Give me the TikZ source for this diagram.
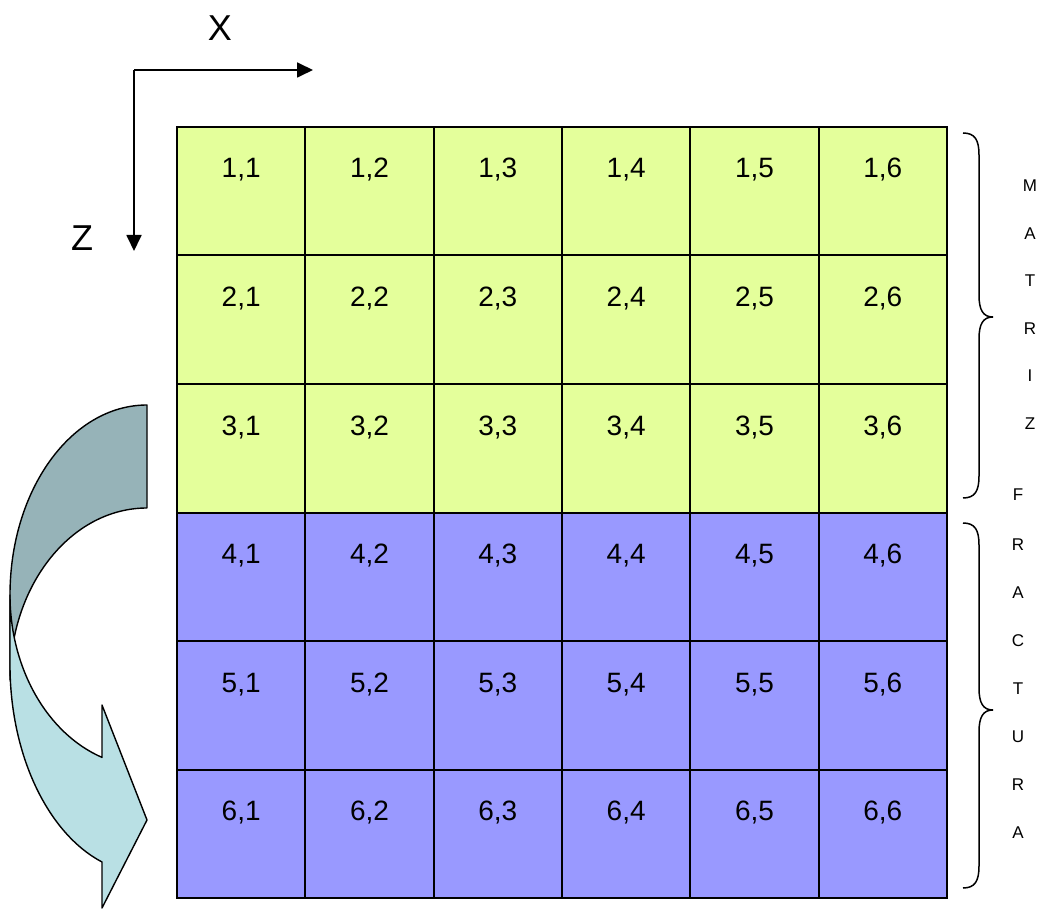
\documentclass[tikz,border=0pt]{standalone}
\usepackage{fontspec}
\setmainfont{Liberation Sans}
\usetikzlibrary{arrows.meta}
\definecolor{cellyellow}{HTML}{E4FF9B}
\definecolor{cellblue}{HTML}{9999FF}
\definecolor{arrowback}{HTML}{96B3B8}
\definecolor{arrowfront}{HTML}{B9E0E4}
\tikzset{
  cell/.style={draw=black, line width=2pt, minimum width=128.33pt, inner sep=0pt,
    text height=51pt, text depth=77.5pt, anchor=north west,
    font=\fontsize{28}{30}\selectfont},
  upper/.style={cell, fill=cellyellow},
  lower/.style={cell, fill=cellblue},
  axis/.style={line width=1.8pt, -{Triangle[length=16pt,width=15pt]}},
  axislabel/.style={font=\fontsize{36}{38}\selectfont, inner sep=0pt},
  letter/.style={font=\fontsize{17}{19}\selectfont, inner sep=0pt},
  bracepath/.style={line width=1.5pt},
  curvedarrow/.style={draw=black, line width=1.4pt, line join=round}
}
\begin{document}
\begin{tikzpicture}[x=1pt,y=-1pt]
\useasboundingbox (0,0) rectangle (1039,909);
% curved arrow (back band)
\path[curvedarrow, fill=arrowback]
  (147,405) -- (147,508) .. controls (71.3,508) and (10,585) .. (10,680)
  -- (10,595) .. controls (10,490) and (71.3,405) .. (147,405) -- cycle;
% curved arrow (front band with head)
\path[curvedarrow, fill=arrowfront]
  (10,595) -- (10,665) .. controls (10,753.7) and (47,832.9) .. (102,862)
  -- (102,908) -- (147,820) -- (102,705) -- (102,757.4)
  .. controls (47,733.4) and (10,668.2) .. (10,595) -- cycle;
% grid
\foreach \r in {1,2,3}{
  \foreach \c in {1,...,6}{
    \node[upper] (c\r\c) at ({176+(\c-1)*128.33},{126+(\r-1)*128.5}) {\r,\c};
  }
}
\foreach \r in {4,5,6}{
  \foreach \c in {1,...,6}{
    \node[lower] (c\r\c) at ({176+(\c-1)*128.33},{126+(\r-1)*128.5}) {\r,\c};
  }
}
% axes
\coordinate (o) at (134,70);
\coordinate (xend) at (313,70);
\coordinate (zend) at (134,251);
\draw[axis] (o) -- (xend);
\draw[axis] (o) -- (zend);
\node[axislabel] (xlab) at (220,28) {X};
\node[axislabel] (zlab) at (82,238) {Z};
% braces
\draw[bracepath] (963,133) .. controls (975,133) and (979,140) .. (979,155) -- (979,295)
  .. controls (979,310) and (983,317) .. (993,317) .. controls (983,317) and (979,324) .. (979,339)
  -- (979,476) .. controls (979,491) and (975,498) .. (963,498);
\draw[bracepath] (963,523) .. controls (975,523) and (979,530) .. (979,545) -- (979,688)
  .. controls (979,703) and (983,710) .. (993,710) .. controls (983,710) and (979,717) .. (979,732)
  -- (979,866) .. controls (979,881) and (975,888) .. (963,888);
% letters
\node[letter] (m1) at (1030,186) {M};
\node[letter] (m2) at (1030,234) {A};
\node[letter] (m3) at (1030,281) {T};
\node[letter] (m4) at (1030,329) {R};
\node[letter] (m5) at (1030,376) {I};
\node[letter] (m6) at (1030,424) {Z};
\node[letter] (f1) at (1018,495) {F};
\node[letter] (f2) at (1018,545) {R};
\node[letter] (f3) at (1018,593) {A};
\node[letter] (f4) at (1018,641) {C};
\node[letter] (f5) at (1018,689) {T};
\node[letter] (f6) at (1018,737) {U};
\node[letter] (f7) at (1018,785) {R};
\node[letter] (f8) at (1018,833) {A};
\end{tikzpicture}
\end{document}
